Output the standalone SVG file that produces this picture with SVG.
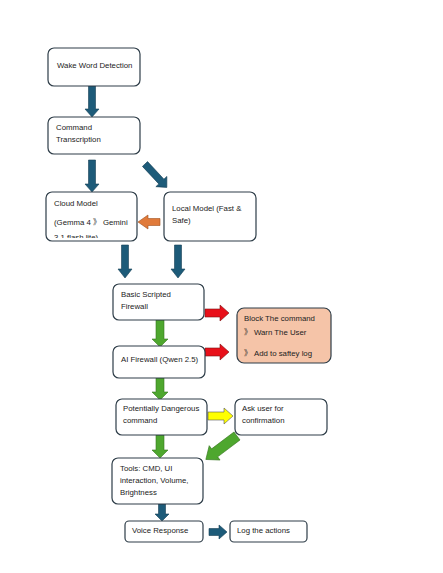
<svg xmlns="http://www.w3.org/2000/svg" width="443" height="573" viewBox="0 0 443 573">
<style>
.box{fill:#fff;stroke:#2e3d48;stroke-width:1.2}
.peach{fill:#f5c4a8;stroke:#2e3d48;stroke-width:1.2}
text{font-family:"Liberation Sans",Arial,"Noto Sans CJK SC",sans-serif;font-size:7.8px;fill:#222}
.blue{fill:#1d5b79;stroke:#163f55;stroke-width:0.6}
.green{fill:#4ea72e;stroke:#36761f;stroke-width:0.6}
.red{fill:#e8101a;stroke:#7a1010;stroke-width:0.6}
.orange{fill:#e07a3a;stroke:#a0501f;stroke-width:0.6}
.yellow{fill:#ffff00;stroke:#555;stroke-width:0.6}
</style>
<defs>
<clipPath id="cloudclip"><rect x="46" y="192" width="91" height="46"/></clipPath>
</defs>
<rect width="443" height="573" fill="#fff"/>
<g id="connectors">
<polygon class="blue" points="88.5,86 95.5,86 95.5,109 99,109 92,117 85,109 88.5,109"/>
<polygon class="blue" points="88.5,160 95.5,160 95.5,184 99,184 92,192 85,184 88.5,184"/>
<polygon class="blue" transform="translate(145,164) rotate(47)" points="0,-3.5 24,-3.5 24,-7.5 32,0 24,7.5 24,3.5 0,3.5"/>
<polygon class="orange" points="160,218.5 148,218.5 148,215 138,222 148,229 148,225.5 160,225.5"/>
<polygon class="blue" points="121.5,245 128.5,245 128.5,269 132,269 125,278 118,269 121.5,269"/>
<polygon class="blue" points="174.5,245 181.5,245 181.5,269 185,269 178,278 171,269 174.5,269"/>
<polygon class="red" points="205,309 220,309 220,305 229,313 220,321 220,317 205,317"/>
<polygon class="red" points="205,348 220,348 220,344 229,352 220,360 220,356 205,356"/>
<polygon class="green" points="156,320 164,320 164,339 168,339 160,347 152,339 156,339"/>
<polygon class="green" points="156,378 164,378 164,392 168,392 160,400 152,392 156,392"/>
<polygon class="yellow" points="208,412 224,412 224,408 233,416 224,424 224,420 208,420"/>
<polygon class="green" points="156,435 164,435 164,450 168,450 160,458 152,450 156,450"/>
<polygon class="green" transform="translate(237,436) rotate(143)" points="0,-5 28,-5 28,-9 39,0 28,9 28,5 0,5"/>
<polygon class="blue" points="158.5,504 165.5,504 165.5,514 169,514 162,521 155,514 158.5,514"/>
<polygon class="blue" points="209,528.5 219,528.5 219,525 227,532 219,539 219,535.5 209,535.5"/>
</g>
<g id="wake"><rect class="box" x="48" y="48" width="92" height="38" rx="6"/><text x="57" y="68">Wake Word Detection</text></g>
<g id="transcription"><rect class="box" x="48" y="117" width="92" height="37" rx="6"/><text x="56" y="130">Command</text><text x="56" y="142">Transcription</text></g>
<g id="cloud"><rect class="box" x="46" y="192" width="91" height="49" rx="6"/><text x="54" y="206">Cloud Model</text><text x="54" y="225">(Gemma 4 》 Gemini</text><text x="54" y="240" clip-path="url(#cloudclip)">3.1 flash lite)</text></g>
<g id="local"><rect class="box" x="164" y="192" width="92" height="49" rx="6"/><text x="172" y="211">Local Model (Fast &amp;</text><text x="172" y="223">Safe)</text></g>
<g id="basic"><rect class="box" x="113" y="284" width="91" height="36" rx="6"/><text x="121" y="297">Basic Scripted</text><text x="121" y="309">Firewall</text></g>
<g id="block"><rect class="peach" x="237" y="308" width="94" height="55" rx="7"/><text x="244" y="321">Block The command</text><text x="244" y="335">》 Warn The User</text><text x="244" y="356">》 Add to saftey log</text></g>
<g id="ai"><rect class="box" x="113" y="346" width="92" height="32" rx="6"/><text x="121" y="362">AI Firewall (Qwen 2.5)</text></g>
<g id="dangerous"><rect class="box" x="116" y="399" width="91" height="36" rx="6"/><text x="123" y="411">Potentially Dangerous</text><text x="123" y="423">command</text></g>
<g id="ask"><rect class="box" x="235" y="399" width="92" height="36" rx="6"/><text x="242" y="411">Ask user for</text><text x="242" y="423">confirmation</text></g>
<g id="tools"><rect class="box" x="112" y="458" width="91" height="46" rx="6"/><text x="120" y="471">Tools: CMD, UI</text><text x="120" y="483">interaction, Volume,</text><text x="120" y="495">Brightness</text></g>
<g id="voice"><rect class="box" x="125" y="521" width="78" height="21" rx="4"/><text x="132" y="533">Voice Response</text></g>
<g id="log"><rect class="box" x="230" y="521" width="77" height="21" rx="4"/><text x="237" y="533">Log the actions</text></g>
</svg>
